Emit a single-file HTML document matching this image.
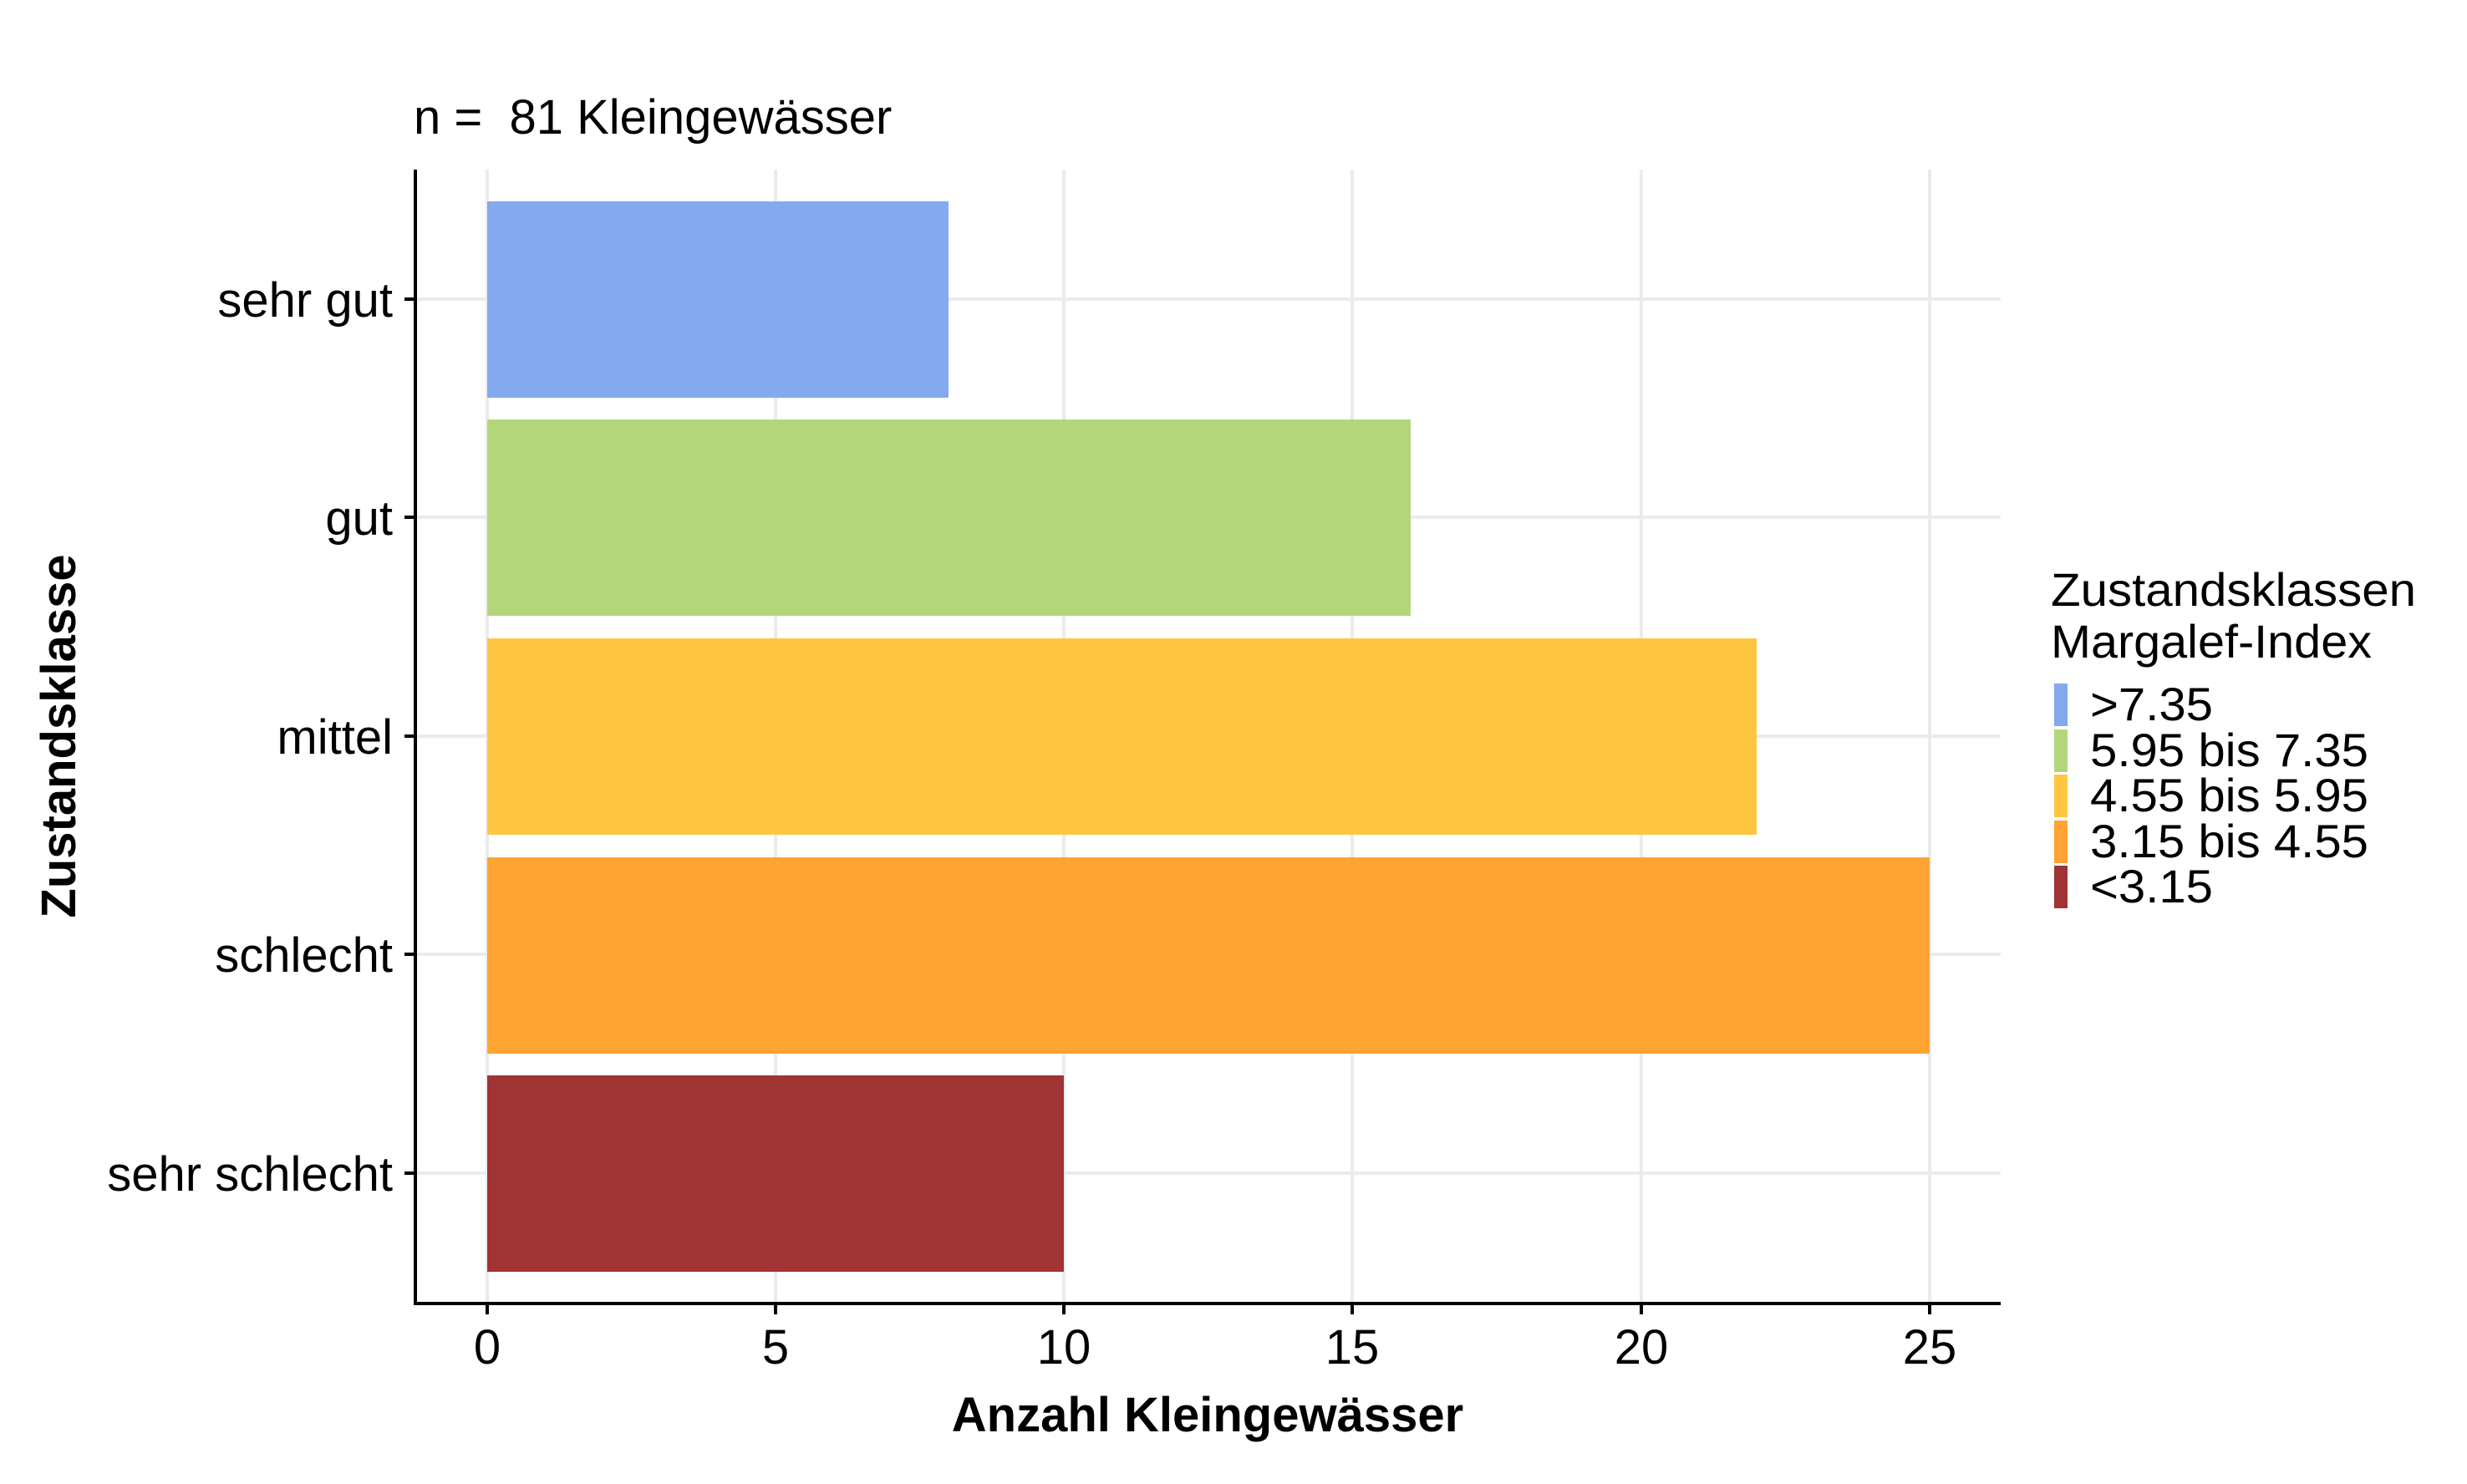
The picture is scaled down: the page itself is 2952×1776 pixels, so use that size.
<!DOCTYPE html>
<html><head><meta charset="utf-8"><style>html,body{margin:0;padding:0;background:#fff}</style></head>
<body>
<svg width="2952" height="1771" viewBox="0 0 2952 1771" xmlns="http://www.w3.org/2000/svg" font-family="Liberation Sans, Arial, sans-serif">
<rect width="2952" height="1771" fill="#fff"/>
<g stroke="#ebebeb" stroke-width="4">
<line x1="583" y1="203" x2="583" y2="1560"/>
<line x1="928" y1="203" x2="928" y2="1560"/>
<line x1="1273" y1="203" x2="1273" y2="1560"/>
<line x1="1618" y1="203" x2="1618" y2="1560"/>
<line x1="1964" y1="203" x2="1964" y2="1560"/>
<line x1="2309" y1="203" x2="2309" y2="1560"/>
<line x1="497" y1="358" x2="2394" y2="358"/>
<line x1="497" y1="619" x2="2394" y2="619"/>
<line x1="497" y1="881" x2="2394" y2="881"/>
<line x1="497" y1="1142" x2="2394" y2="1142"/>
<line x1="497" y1="1404" x2="2394" y2="1404"/>
</g>
<rect x="583" y="241" width="552" height="235" fill="#84a9ef"/>
<rect x="583" y="502" width="1105" height="235" fill="#b3d67a"/>
<rect x="583" y="764" width="1519" height="235" fill="#ffc642"/>
<rect x="583" y="1026" width="1726" height="235" fill="#ffa333"/>
<rect x="583" y="1287" width="690" height="235" fill="#a03334"/>
<g stroke="#000" stroke-width="4">
<line x1="497" y1="203" x2="497" y2="1562"/>
<line x1="495" y1="1560" x2="2394" y2="1560"/>
<line x1="484" y1="358" x2="497" y2="358"/><line x1="484" y1="619" x2="497" y2="619"/><line x1="484" y1="881" x2="497" y2="881"/><line x1="484" y1="1142" x2="497" y2="1142"/><line x1="484" y1="1404" x2="497" y2="1404"/>
<line x1="583" y1="1560" x2="583" y2="1573"/><line x1="928" y1="1560" x2="928" y2="1573"/><line x1="1273" y1="1560" x2="1273" y2="1573"/><line x1="1618" y1="1560" x2="1618" y2="1573"/><line x1="1964" y1="1560" x2="1964" y2="1573"/><line x1="2309" y1="1560" x2="2309" y2="1573"/>
</g>
<g font-size="58" fill="#000" text-anchor="end">
<text x="470" y="379">sehr gut</text>
<text x="470" y="640">gut</text>
<text x="470" y="902">mittel</text>
<text x="470" y="1163">schlecht</text>
<text x="470" y="1425">sehr schlecht</text>
</g>
<g font-size="58" fill="#000" text-anchor="middle">
<text x="583" y="1632">0</text><text x="928" y="1632">5</text><text x="1273" y="1632">10</text><text x="1618" y="1632">15</text><text x="1964" y="1632">20</text><text x="2309" y="1632">25</text>
</g>
<text x="1445" y="1713" font-size="58" font-weight="bold" text-anchor="middle">Anzahl Kleingewässer</text>
<text transform="translate(90,881) rotate(-90)" font-size="58" font-weight="bold" text-anchor="middle">Zustandsklasse</text>
<text x="495" y="160" font-size="58" xml:space="preserve">n =  81 Kleingewässer</text>
<g font-size="56" fill="#000">
<text x="2454" y="725" textLength="437" lengthAdjust="spacingAndGlyphs">Zustandsklassen</text>
<text x="2454" y="787" textLength="384" lengthAdjust="spacingAndGlyphs">Margalef-Index</text>
</g>
<rect x="2458" y="818" width="16" height="51" fill="#84a9ef"/>
<rect x="2458" y="873" width="16" height="51" fill="#b3d67a"/>
<rect x="2458" y="927" width="16" height="51" fill="#ffc642"/>
<rect x="2458" y="982" width="16" height="51" fill="#ffa333"/>
<rect x="2458" y="1036" width="16" height="51" fill="#a03334"/>
<g font-size="56" fill="#000">
<text x="2501" y="862" textLength="147" lengthAdjust="spacingAndGlyphs">&gt;7.35</text>
<text x="2501" y="917" textLength="333" lengthAdjust="spacingAndGlyphs">5.95 bis 7.35</text>
<text x="2501" y="971" textLength="333" lengthAdjust="spacingAndGlyphs">4.55 bis 5.95</text>
<text x="2501" y="1026" textLength="333" lengthAdjust="spacingAndGlyphs">3.15 bis 4.55</text>
<text x="2501" y="1080" textLength="147" lengthAdjust="spacingAndGlyphs">&lt;3.15</text>
</g>
</svg>
</body></html>
